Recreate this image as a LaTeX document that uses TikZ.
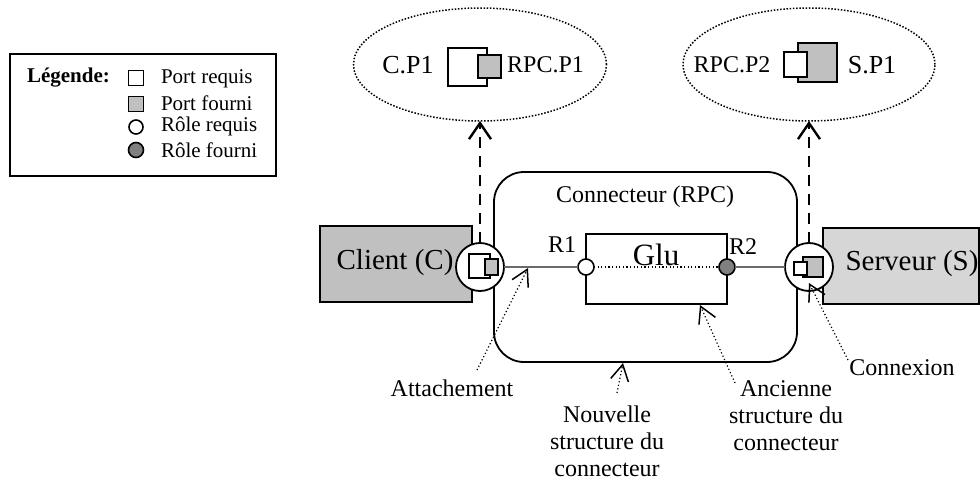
\documentclass[tikz,border=0pt]{standalone}
\usepackage{fontspec}
\setmainfont{Liberation Serif}
\usetikzlibrary{arrows.meta,shapes.geometric}
\definecolor{portgray}{HTML}{C0C0C0}
\definecolor{rolegray}{HTML}{808080}
\definecolor{clientgray}{HTML}{C0C0C0}
\definecolor{servergray}{HTML}{D6D6D6}
\definecolor{linkgray}{HTML}{6A6A6A}
\begin{document}
\begin{tikzpicture}[x=0.5pt,y=-0.5pt,
  every node/.style={inner sep=0pt, outer sep=0pt},
  txt/.style={font=\fontsize{12}{13.5}\selectfont, align=center},
  bigtxt/.style={font=\fontsize{14.5}{17}\selectfont},
  legtxt/.style={font=\fontsize{10.5}{12}\selectfont, anchor=west},
  sq/.style={draw, line width=0.8pt, rectangle},
  rolec/.style={draw, circle, line width=0.8pt, minimum size=8pt},
  dotell/.style={draw, ellipse, line width=0.75pt, dash pattern=on 0.75pt off 0.85pt},
  portc/.style={draw, circle, fill=white, line width=0.9pt, minimum size=24pt},
  dasharrow/.style={line width=1.2pt, dash pattern=on 5.5pt off 4pt,
    -{Straight Barb[length=8pt,width=11pt,line width=1.2pt]}},
  annot/.style={line width=0.6pt, dash pattern=on 0.6pt off 1.2pt,
    -{Straight Barb[length=8pt,width=9pt,line width=0.75pt]}},
  conn/.style={draw=linkgray, line width=0.6pt}
]
\useasboundingbox (0,0) rectangle (980,481);

% Legend
\node[draw, line width=0.9pt, minimum width=133pt, minimum height=61pt] (legend) at (143,115) {};
\node[font=\bfseries\fontsize{10.5}{12}\selectfont, anchor=west] (legtitle) at (27,78) {Légende:};
\node[sq, fill=white, minimum width=7.5pt, minimum height=7.5pt] (lpr) at (136,78) {};
\node[legtxt] (lprt) at (161,79) {Port requis};
\node[sq, fill=portgray, minimum width=7.5pt, minimum height=7.5pt] (lpf) at (136,104) {};
\node[legtxt] (lpft) at (161,103) {Port fourni};
\node[rolec, fill=white, minimum size=7pt] (lrr) at (136,127) {};
\node[legtxt] (lrrt) at (161,126) {Rôle requis};
\node[rolec, fill=rolegray, minimum size=7.5pt] (lrf) at (136,150) {};
\node[legtxt] (lrft) at (161,150) {Rôle fourni};

% Upper ellipses
\node[dotell, minimum width=126.5pt, minimum height=56.5pt] (ell1) at (480,64.5) {};
\node[font=\fontsize{13}{15}\selectfont] (cp1) at (408,65) {C.P1};
\node[sq, fill=white, minimum width=19.5pt, minimum height=19pt] (e1big) at (467.5,67) {};
\node[sq, fill=portgray, minimum width=11.5pt, minimum height=11.5pt] (e1small) at (489.5,66.5) {};
\node[font=\fontsize{12}{14}\selectfont] (rpcp1) at (545.5,65) {RPC.P1};

\node[dotell, minimum width=126pt, minimum height=56.5pt] (ell2) at (809,64.5) {};
\node[font=\fontsize{12}{14}\selectfont] (rpcp2) at (732,65) {RPC.P2};
\node[sq, fill=portgray, minimum width=19.5pt, minimum height=19.5pt] (e2big) at (817.5,62.5) {};
\node[sq, fill=white, minimum width=11.5pt, minimum height=12.5pt] (e2small) at (795.5,64.5) {};
\node[font=\fontsize{13}{15}\selectfont] (sp1) at (872,65) {S.P1};

% Connector box
\node[draw, line width=0.9pt, rounded corners=15pt, minimum width=151.5pt, minimum height=95pt] (connbox) at (645.5,267) {};
\node[txt] (conntitle) at (645,197) {Connecteur (RPC)};

% Client and server
\node[draw, line width=0.9pt, fill=clientgray, minimum width=76pt, minimum height=38pt] (client) at (396,264) {};
\node[bigtxt] (clientt) at (395,263) {Client (C)};
\node[draw, line width=0.9pt, fill=servergray, minimum width=78pt, minimum height=38pt] (server) at (901,266) {};
\node[bigtxt] (servert) at (912,264) {Serveur (S)};

% Glu
\node[draw, line width=1.2pt, minimum width=70.5pt, minimum height=35pt] (glu) at (656.5,269) {};
\node[font=\fontsize{15.5}{18}\selectfont] (glut) at (656,255) {Glu};
\node[rolec, fill=white] (r1) at (586,267) {};
\node[rolec, fill=rolegray] (r2) at (727,267) {};
\node[txt] (r1t) at (562,245) {R1};
\node[txt] (r2t) at (743,247) {R2};
\draw[line width=0.6pt, dash pattern=on 0.6pt off 1.2pt] (r1.east) -- (r2.west);

% Ports on components
\node[portc] (cport) at (480,267) {};
\node[sq, fill=white, minimum width=10.5pt, minimum height=12pt] (cpbig) at (479.5,266) {};
\node[sq, fill=portgray, minimum width=6.5pt, minimum height=8pt] (cpsmall) at (491.5,267) {};
\node[portc] (sport) at (809,267) {};
\node[sq, fill=portgray, minimum width=10pt, minimum height=10pt] (spbig) at (813,267) {};
\node[sq, fill=white, minimum width=6.5pt, minimum height=6.5pt] (spsmall) at (800.5,268.5) {};

% Links
\draw[conn] (cport.east) -- (r1.west);
\draw[conn] (r2.east) -- (sport.west);

% Dashed arrows to ellipses
\draw[dasharrow] (cport.north) -- (ell1.south);
\draw[dasharrow] (sport.north) -- (ell2.south);

% Annotations
\node[txt] (attach) at (452,388) {Attachement};
\node[txt] (nouv) at (607,441) {Nouvelle\\structure du\\connecteur};
\node[txt] (anc) at (786,416) {Ancienne\\structure du\\connecteur};
\node[txt] (connex) at (902,368) {Connexion};
\coordinate (attTail) at (477,370);
\coordinate (attTip) at (528,268);
\coordinate (nouvTail) at (617,393);
\coordinate (nouvTip) at (623,363);
\coordinate (ancTail) at (735,383);
\coordinate (ancTip) at (700,305);
\coordinate (conxTail) at (848,360);
\coordinate (conxTip) at (809,283);
\draw[annot] (attTail) -- (attTip);
\draw[annot] (nouvTail) -- (nouvTip);
\draw[annot] (ancTail) -- (ancTip);
\draw[annot] (conxTail) -- (conxTip);
\end{tikzpicture}
\end{document}
